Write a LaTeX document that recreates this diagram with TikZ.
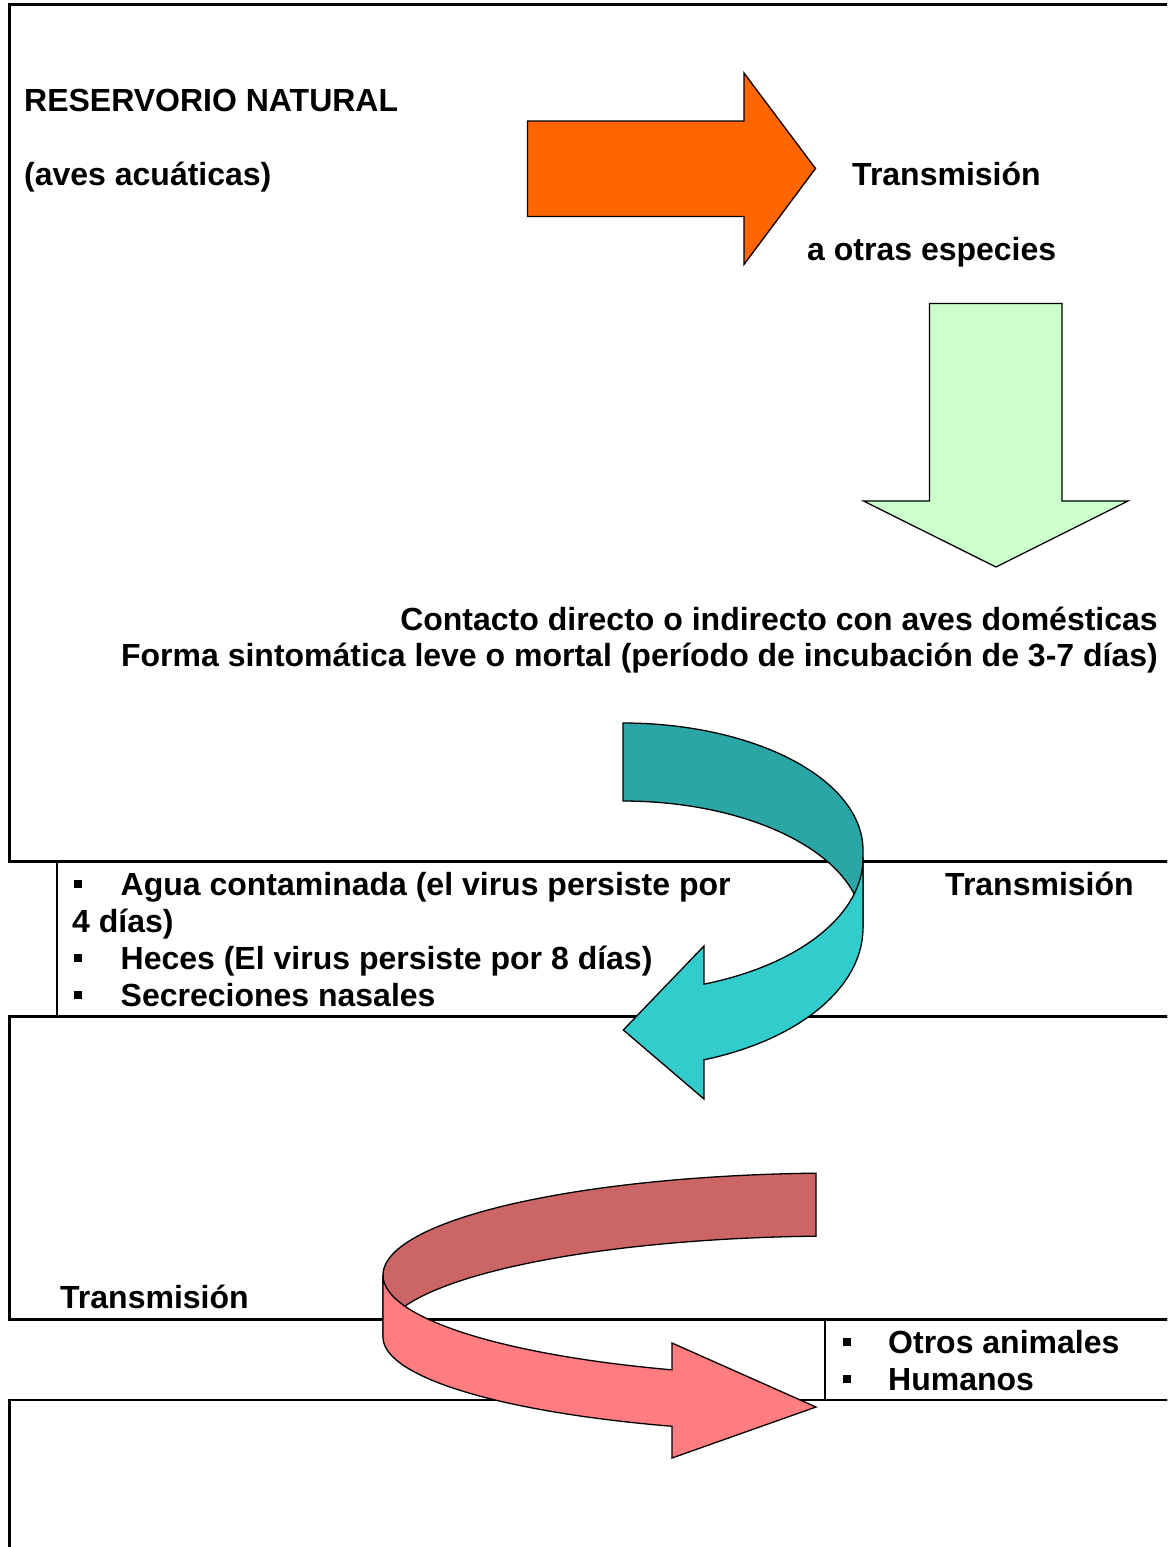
\documentclass[tikz,border=0pt]{standalone}
\usepackage{fontspec}
\setmainfont{Liberation Sans}
\definecolor{orangeA}{HTML}{FF6600}
\definecolor{greenA}{HTML}{CCFFCC}
\definecolor{tealdark}{HTML}{2AA6A6}
\definecolor{teallight}{HTML}{33CCCC}
\definecolor{pinkdark}{HTML}{CC6666}
\definecolor{pinklight}{HTML}{FF7C80}
\newcommand{\blt}[1]{\makebox[#1][l]{\rule[7pt]{8pt}{8pt}}}
\begin{document}
\begin{tikzpicture}[x=1pt,y=-1pt,
  frame/.style={draw=black,line width=2.6pt},
  shapeline/.style={draw=black,line width=1.3pt,line join=miter},
  txt/.style={inner sep=0pt,anchor=base west,font=\fontsize{32}{37}\selectfont\bfseries},
  txtr/.style={txt,anchor=base east}]
\useasboundingbox (0,0) rectangle (1167,1547);
\clip (0,0) rectangle (1167,1547);
\fill[white] (0,0) rectangle (1167,1547);
% frames
\draw[frame] (9.5,4.2) rectangle (1200,861.5);
\draw[frame] (57,861.5) rectangle (1200,1016.5);
\draw[frame] (9.5,1016.5) rectangle (1200,1319.5);
\draw[frame] (825,1319.5) rectangle (1200,1400);
\draw[frame] (9.5,1400) rectangle (1200,1600);
% texts
\node[txt] (res) at (24,111) {RESERVORIO NATURAL};
\node[txt] (aves) at (24,185) {(aves acuáticas)};
\node[txt] (trans1) at (852,185) {Transmisión};
\node[txt] (otras) at (807,260) {a otras especies};
\node[txtr] (contacto) at (1158,630) {Contacto directo o indirecto con aves domésticas};
\node[txtr] (forma) at (1158,666) {Forma sintomática leve o mortal (período de incubación de 3-7 días)};
\node[txt] (agua) at (74,895) {\blt{46.5pt}Agua contaminada (el virus persiste por};
\node[txt] (cuatro) at (72,932) {4 días)};
\node[txt] (heces) at (74,969) {\blt{46.5pt}Heces (El virus persiste por 8 días)};
\node[txt] (secre) at (74,1006) {\blt{46.5pt}Secreciones nasales};
\node[txt] (trans2) at (945,895) {Transmisión};
\node[txt] (trans3) at (60,1308) {Transmisión};
\node[txt] (otros) at (843,1353) {\blt{45pt}Otros animales};
\node[txt] (humanos) at (843,1390) {\blt{45pt}Humanos};
% orange arrow
\draw[shapeline,fill=orangeA] (527.5,121) -- (744,121) -- (744,73) -- (815.5,168.5) -- (744,264.5) -- (744,216.5) -- (527.5,216.5) -- cycle;
% green arrow
\draw[shapeline,fill=greenA] (929.5,303.5) -- (1062,303.5) -- (1062,501) -- (1128,501) -- (996,567) -- (863.5,501) -- (929.5,501) -- cycle;
% teal curved arrow
\draw[shapeline,fill=tealdark] plot[domain=270:360,samples=60] ({623+240*cos(\x)},{850+127*sin(\x)}) -- (863,928) -- plot[domain=0:-90,samples=60] ({623+240*cos(\x)},{928+127*sin(\x)}) -- cycle;
\draw[shapeline,fill=teallight] (863,858) -- (863,928) -- plot[domain=0:70.3,samples=50] ({623+240*cos(\x)},{928+140*sin(\x)}) -- (704,1099) -- (623.3,1030) -- (704,946) -- plot[domain=70.3:0,samples=50] ({623+240*cos(\x)},{858+134*sin(\x)}) -- cycle;
% pink curved arrow
\draw[shapeline,fill=pinkdark] plot[domain=-93:-180,samples=60] ({840+457*cos(\x)},{1275+102*sin(\x)}) -- (383,1337) -- plot[domain=-180:-93,samples=60] ({840+457*cos(\x)},{1337+101*sin(\x)}) -- cycle;
\draw[shapeline,fill=pinklight] (383,1275) -- (383,1337) -- plot[domain=180:111.57,samples=50] ({840+457*cos(\x)},{1337+96*sin(\x)}) -- (672,1458) -- (816,1407) -- (672,1343) -- plot[domain=111.57:180,samples=50] ({840+457*cos(\x)},{1275+102*sin(\x)}) -- cycle;
\end{tikzpicture}
\end{document}
